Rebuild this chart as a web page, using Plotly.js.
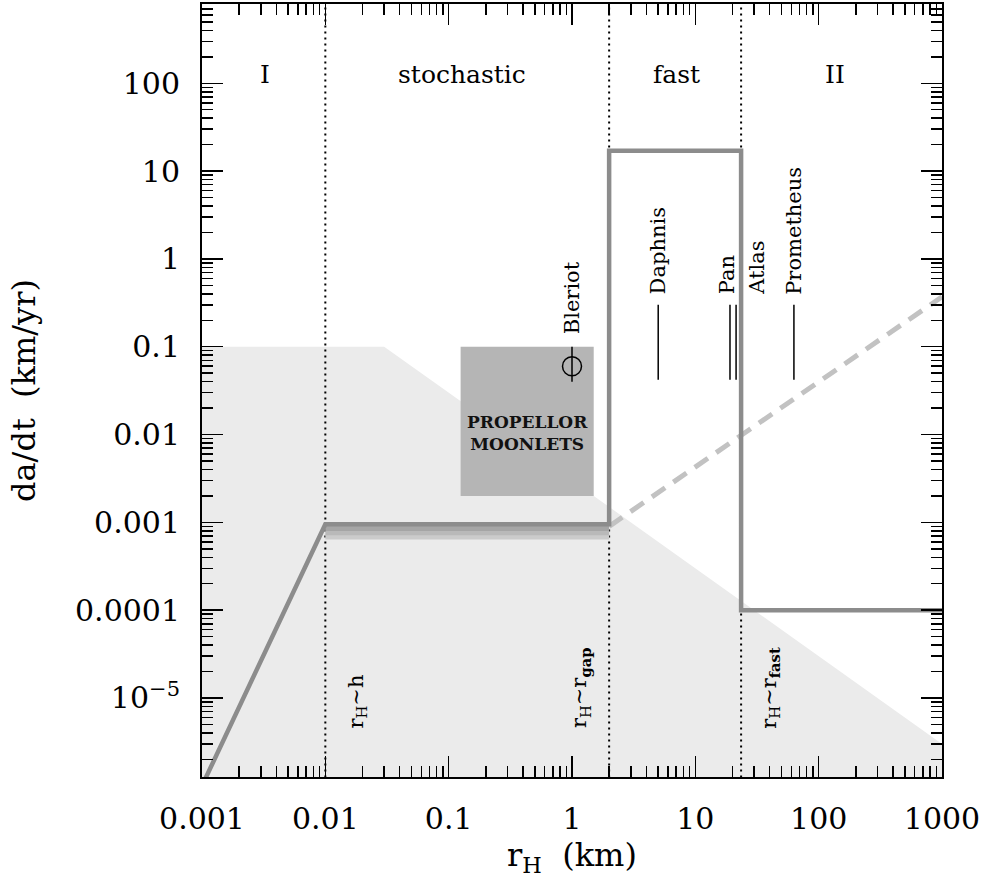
<!DOCTYPE html>
<html>
<head>
<meta charset="utf-8">
<script src="https://cdn.plot.ly/plotly-3.0.1.min.js"></script>
<style>
  html, body { margin: 0; padding: 0; background: #fff; }
  #chart { width: 988px; height: 880px; }
</style>
</head>
<body>
<div id="chart"></div>
<script>
// Migration rate da/dt versus Hill radius r_H, log-log.

// Shaded region below the threshold (flat at 0.1, then falling as 1/r_H)
const shadeX = [0.001, 0.03, 1000, 1000, 0.001, 0.001];
const shadeY = [0.1, 0.1, 3e-6, 1e-8, 1e-8, 0.1];

// Propellor moonlet box
const boxX = [0.125, 1.5, 1.5, 0.125, 0.125];
const boxY = [0.002, 0.002, 0.1, 0.1, 0.002];

// Main migration-rate curve
const rateX = [0.001, 0.01, 2, 2, 23.5, 23.5, 1000];
const rateY = [1e-6, 0.00095, 0.00095, 17, 17, 0.0001, 0.0001];

// Shaded band beneath the stochastic plateau
const bandX = [0.01, 2];
const bandLevels = [0.00068, 0.00076, 0.00085];
const bandColors = ['#cbcbcb', '#b9b9b9', '#a5a5a5'];

// Dashed continuation past r_gap
const dashX = [2, 1000];
const dashY = [0.0009, 0.37];

// Regime boundaries
const boundX = [0.01, 2, 23.5];

// Known moons: radius and the rate range they span
const moonNames = ['Daphnis', 'Pan', 'Atlas', 'Prometheus'];
const moonLineX = [5, 19.1, 21.4, 63];
const moonLineLo = 0.042;
const moonLineHi = 0.3;
const moonLabelX = [5, 18.1, 31.7, 63.2];

// Bleriot
const bleriotX = 1;
const bleriotY = 0.06;
const bleriotLo = 0.04;
const bleriotHi = 0.1;

// Regime labels across the top
const regimeNames = ['I', 'stochastic', 'fast', 'II'];
const regimeX = [0.00325, 0.128, 6.98, 136];

// Boundary labels
const boundNames = ['r<sub>H</sub>~h', 'r<sub>H</sub>~r<sub><b>gap</b></sub>', 'r<sub>H</sub>~r<sub><b>fast</b></sub>'];
const boundLabelX = [0.0181, 1.164, 40.5];

// Tick labels
const xTickVals = [0.001, 0.01, 0.1, 1, 10, 100, 1000];
const xTickText = ['0.001', '0.01', '0.1', '1', '10', '100', '1000'];
const yTickVals = [1e-5, 0.0001, 0.001, 0.01, 0.1, 1, 10, 100];
const yTickText = ['10<sup>\u22125</sup>', '0.0001', '0.001', '0.01', '0.1', '1', '10', '100'];

const FONT = 'DejaVu Serif, Liberation Serif, serif';
const log = Math.log10;

function minorTicks(lo, hi) {
  const v = [];
  for (let e = lo; e <= hi; e++) {
    for (let m = 2; m <= 9; m++) v.push(m * Math.pow(10, e));
  }
  return v;
}

const traces = [];

traces.push({
  x: shadeX, y: shadeY, mode: 'lines', fill: 'toself',
  fillcolor: '#ebebeb', line: {width: 0, color: '#ebebeb'}, hoverinfo: 'skip'
});

traces.push({
  x: boxX, y: boxY, mode: 'lines', fill: 'toself',
  fillcolor: '#b5b5b5', line: {width: 0, color: '#b5b5b5'}, hoverinfo: 'skip'
});

boundX.forEach(function (bx) {
  traces.push({
    x: [bx, bx], y: [1e-7, 1e4], mode: 'lines',
    line: {color: '#000', width: 2, dash: '2px,4px'}, hoverinfo: 'skip'
  });
});

bandLevels.forEach(function (lv, i) {
  traces.push({
    x: bandX, y: [lv, lv], mode: 'lines',
    line: {color: bandColors[i], width: 5}, hoverinfo: 'skip'
  });
});

traces.push({
  x: dashX, y: dashY, mode: 'lines',
  line: {color: '#c2c2c2', width: 5, dash: '16px,10px'}, hoverinfo: 'skip'
});

traces.push({
  x: rateX, y: rateY, mode: 'lines',
  line: {color: '#8c8c8c', width: 4.5}, hoverinfo: 'skip'
});

// Moon vertical segments
const mx = [], my = [];
moonLineX.forEach(function (v) {
  mx.push(v, v, null);
  my.push(moonLineLo, moonLineHi, null);
});
traces.push({
  x: mx, y: my, mode: 'lines',
  line: {color: '#000', width: 1.5}, hoverinfo: 'skip'
});

traces.push({
  x: [bleriotX, bleriotX], y: [bleriotLo, bleriotHi], mode: 'lines',
  line: {color: '#000', width: 1.5}, hoverinfo: 'skip'
});
traces.push({
  x: [bleriotX], y: [bleriotY], mode: 'markers',
  marker: {symbol: 'circle-open', size: 19, color: '#000', line: {width: 1.5, color: '#000'}},
  hoverinfo: 'skip'
});

const annotations = [];

regimeNames.forEach(function (t, i) {
  annotations.push({
    x: log(regimeX[i]), y: 2.095, xref: 'x', yref: 'y', text: t,
    showarrow: false, font: {family: FONT, size: 25, color: '#000'}
  });
});

moonNames.forEach(function (t, i) {
  annotations.push({
    x: log(moonLabelX[i]), y: -0.43, xref: 'x', yref: 'y', text: t,
    textangle: -90, showarrow: false, yanchor: 'bottom',
    font: {family: FONT, size: 21, color: '#000'}
  });
});

annotations.push({
  x: log(bleriotX), y: -0.886, xref: 'x', yref: 'y', text: 'Bleriot',
  textangle: -90, showarrow: false, yanchor: 'bottom',
  font: {family: FONT, size: 21, color: '#000'}
});

annotations.push({
  x: -0.364, y: -1.977, xref: 'x', yref: 'y', text: '<b>PROPELLOR<br>MOONLETS</b>',
  showarrow: false, font: {family: FONT, size: 17, color: '#111'}
});

boundNames.forEach(function (t, i) {
  annotations.push({
    x: log(boundLabelX[i]), y: -5.37, xref: 'x', yref: 'y', text: t,
    textangle: -90, showarrow: false, yanchor: 'bottom',
    font: {family: FONT, size: 21, color: '#000'}
  });
});

const axisCommon = {
  type: 'log',
  showgrid: false, zeroline: false,
  showline: true, linecolor: '#000', linewidth: 2,
  mirror: 'allticks',
  ticks: 'inside', ticklen: 21, tickwidth: 1.5, tickcolor: '#000',
  tickmode: 'array',
  tickfont: {family: FONT, size: 30, color: '#000'},
  ticklabelstandoff: 14
};

const layout = {
  width: 988, height: 880,
  margin: {l: 202, r: 46, t: 4, b: 103},
  paper_bgcolor: '#fff', plot_bgcolor: '#fff',
  showlegend: false,
  xaxis: Object.assign({}, axisCommon, {
    range: [-3, 3],
    tickvals: xTickVals, ticktext: xTickText,
    minor: {tickmode: 'array', tickvals: minorTicks(-3, 2), ticks: 'inside',
            ticklen: 11, tickwidth: 1.5, tickcolor: '#000', showgrid: false},
    title: {text: 'r<sub>H</sub>  (km)', standoff: 8,
            font: {family: FONT, size: 32, color: '#000'}}
  }),
  yaxis: Object.assign({}, axisCommon, {
    range: [-5.90, 2.903],
    tickvals: yTickVals, ticktext: yTickText,
    minor: {tickmode: 'array', tickvals: minorTicks(-6, 2), ticks: 'inside',
            ticklen: 11, tickwidth: 1.5, tickcolor: '#000', showgrid: false},
    title: {text: 'da/dt  (km/yr)', standoff: 30,
            font: {family: FONT, size: 32, color: '#000'}}
  }),
  annotations: annotations
};

Plotly.newPlot('chart', traces, layout, {staticPlot: true, displayModeBar: false});
</script>
</body>
</html>
